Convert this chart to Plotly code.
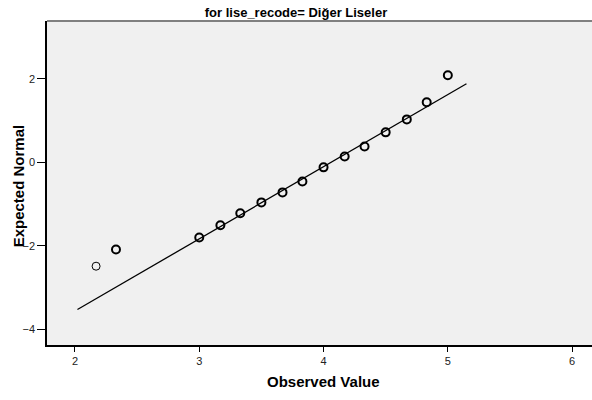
import plotly.graph_objects as go

# Normal Q-Q plot data
observed = [2.17, 2.33, 3.00, 3.17, 3.33, 3.50, 3.67, 3.83, 4.00, 4.17, 4.33, 4.50, 4.67, 4.83, 5.00]
expected = [-2.49, -2.09, -1.80, -1.51, -1.22, -0.96, -0.72, -0.46, -0.12, 0.14, 0.38, 0.72, 1.03, 1.44, 2.09]
# single-case point is drawn with a thinner ring
ring_width = [1, 2, 2, 2, 2, 2, 2, 2, 2, 2, 2, 2, 2, 2, 2]

# reference line of the fitted normal distribution
line_mean = 4.06
line_sd = 0.578
line_x = [2.02, 5.15]
line_y = [(x - line_mean) / line_sd for x in line_x]

x_ticks = [2, 3, 4, 5, 6]
y_ticks = [-4, -2, 0, 2]

fig = go.Figure()
fig.add_trace(go.Scatter(
    x=line_x, y=line_y, mode="lines",
    line=dict(color="black", width=1.3), hoverinfo="skip", showlegend=False))
fig.add_trace(go.Scatter(
    x=observed, y=expected, mode="markers",
    marker=dict(symbol="circle-open", size=8, color="black",
                line=dict(color="black", width=ring_width)),
    showlegend=False))

font = "Liberation Sans, Arial, sans-serif"
fig.update_layout(
    width=592, height=400,
    margin=dict(l=47, r=0, t=21, b=55),
    paper_bgcolor="white", plot_bgcolor="#f0f0f0",
    font=dict(family=font, color="black", size=11),
    title=dict(text="<b>for lise_recode= Diğer Liseler</b>", x=0.5, xanchor="center",
               y=0.97, yanchor="middle", font=dict(size=13, family=font)),
    xaxis=dict(range=[1.775, 6.16], tickvals=x_ticks, ticks="outside", ticklen=5,
               tickcolor="black", showgrid=False, zeroline=False,
               showline=True, linecolor="black", linewidth=1.5, mirror=False,
               tickfont=dict(size=11, color="#222")),
    yaxis=dict(range=[-4.38, 3.39], tickvals=y_ticks, ticks="outside", ticklen=8,
               tickcolor="black", showgrid=False, zeroline=False,
               showline=True, linecolor="black", linewidth=1.5,
               tickfont=dict(size=11, color="#222")),
    annotations=[
        dict(text="<b>Observed Value</b>", xref="paper", yref="paper",
             x=0.508, y=-0.114, xanchor="center", yanchor="middle",
             showarrow=False, font=dict(size=15)),
        dict(text="<b>Expected Normal</b>", xref="paper", yref="paper",
             x=-0.053, y=0.49, xanchor="center", yanchor="middle", textangle=-90,
             showarrow=False, font=dict(size=15)),
    ],
    shapes=[dict(type="line", xref="paper", yref="paper", x0=0, x1=1, y0=1, y1=1,
                 line=dict(color="#808080", width=2))],
)

fig.write_html("out.html")
